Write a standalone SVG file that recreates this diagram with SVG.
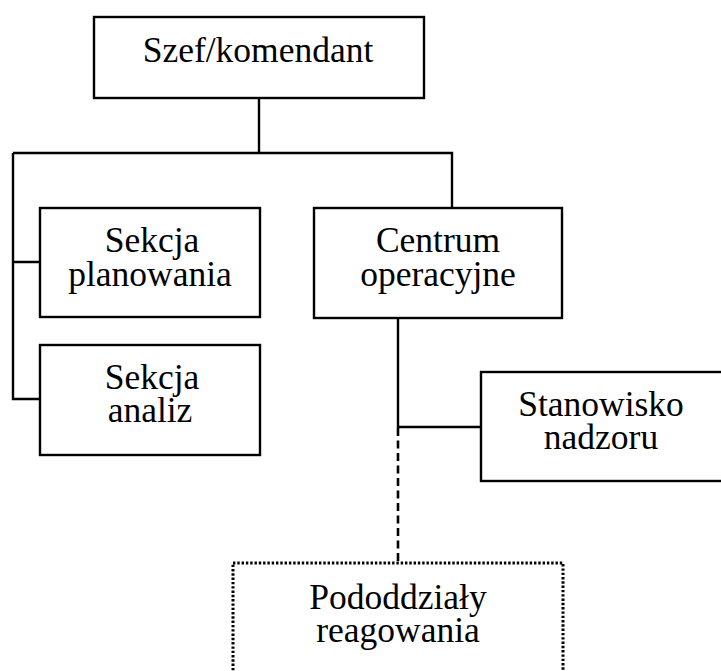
<svg xmlns="http://www.w3.org/2000/svg" width="721" height="671" viewBox="0 0 721 671">
  <style>
    .box { fill: #ffffff; stroke: #000000; stroke-width: 2.4; }
    .dotted { fill: #ffffff; stroke: #000000; stroke-width: 3; stroke-dasharray: 2.4 1.9; }
    .line { fill: none; stroke: #000000; stroke-width: 2.4; }
    .dash { fill: none; stroke: #000000; stroke-width: 2.6; stroke-dasharray: 8 4.5; }
    text { font-family: "Liberation Serif", "Times New Roman", serif; font-size: 35.5px; fill: #000000; text-anchor: middle; }
  </style>
  <rect width="721" height="671" fill="#ffffff"/>

  <!-- connectors -->
  <g id="connectors">
    <path class="line" d="M259 98 V153 M13 153 H452 V208"/>
    <path class="line" d="M13 153 V399 H40 M13 262 H40"/>
    <path class="line" d="M398 318 V427 H481"/>
    <path class="dash" d="M398 428 V563"/>
  </g>

  <g id="szef">
    <rect class="box" x="94" y="17" width="330" height="81"/>
    <text x="258" y="62">Szef/komendant</text>
  </g>

  <g id="sekcja-planowania">
    <rect class="box" x="40" y="208" width="220" height="109"/>
    <text x="152" y="252">Sekcja</text>
    <text x="150" y="286">planowania</text>
  </g>

  <g id="sekcja-analiz">
    <rect class="box" x="40" y="345" width="220" height="110"/>
    <text x="152" y="389">Sekcja</text>
    <text x="150" y="422">analiz</text>
  </g>

  <g id="centrum-operacyjne">
    <rect class="box" x="314" y="208" width="248" height="110"/>
    <text x="438" y="252">Centrum</text>
    <text x="438" y="286">operacyjne</text>
  </g>

  <g id="stanowisko-nadzoru">
    <rect class="box" x="481" y="372" width="260" height="109"/>
    <text x="601" y="416">Stanowisko</text>
    <text x="601" y="449">nadzoru</text>
  </g>

  <g id="pododdzialy-reagowania">
    <rect class="dotted" x="233" y="563" width="330" height="130"/>
    <text x="398" y="609">Pododdziały</text>
    <text x="398" y="642">reagowania</text>
  </g>
</svg>
